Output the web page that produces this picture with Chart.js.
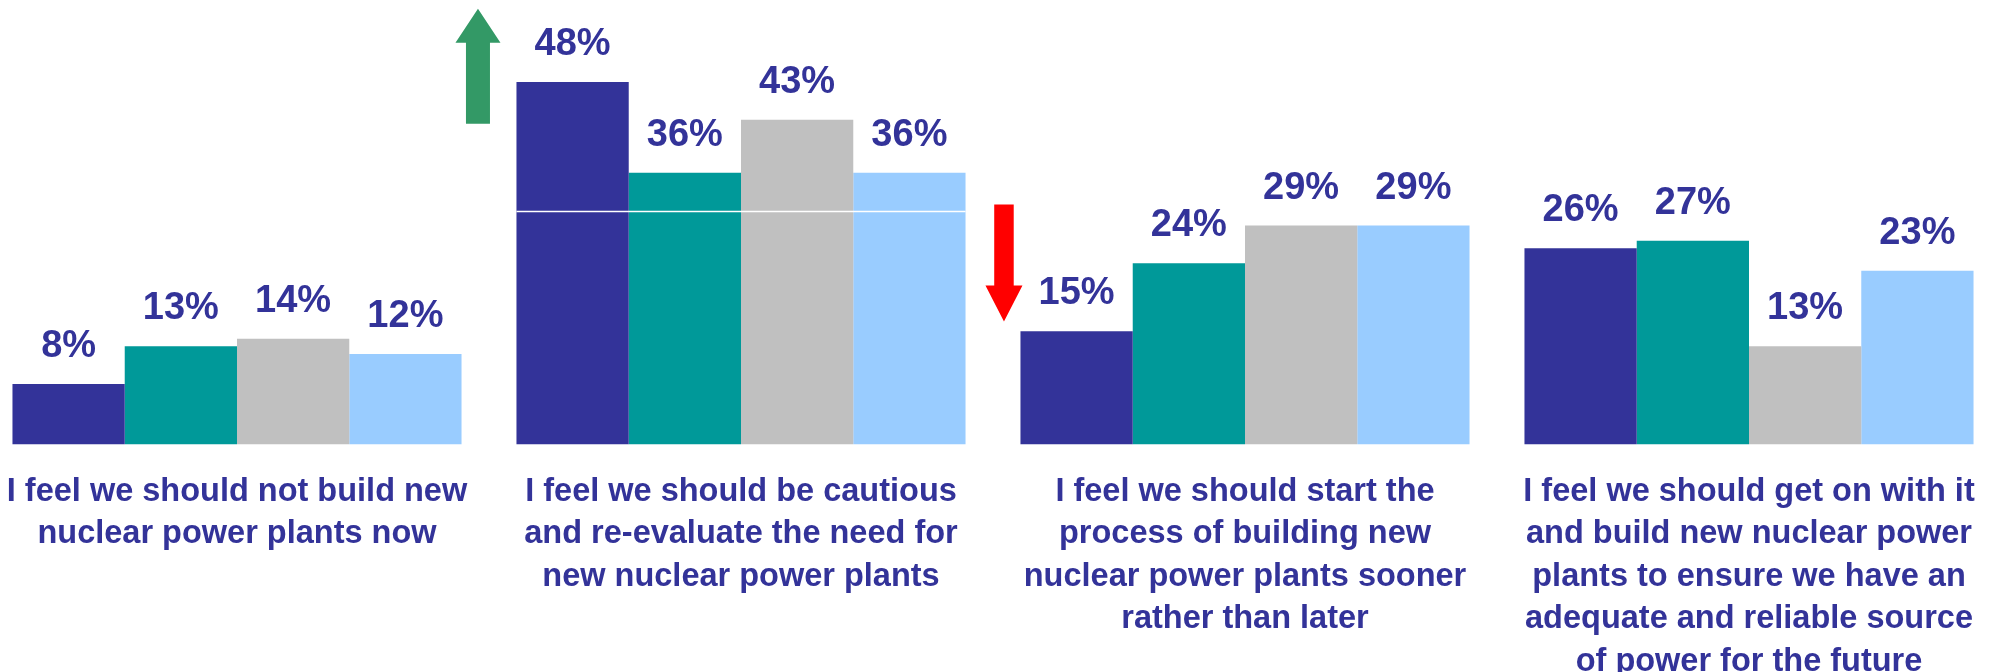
<!DOCTYPE html>
<html>
<head>
<meta charset="utf-8">
<script src="https://cdn.jsdelivr.net/npm/chart.js@4.4.0/dist/chart.umd.min.js"></script>
<style>
  html, body { margin:0; padding:0; background:#fff; overflow:hidden; width:2003px; height:672px; }
  #wrap { position:absolute; left:-15px; top:0; }
</style>
</head>
<body>
<div id="wrap"><canvas id="chart" width="2016" height="672"></canvas></div>
<script>
const categories = [
  ['I feel we should not build new', 'nuclear power plants now'],
  ['I feel we should be cautious', 'and re-evaluate the need for', 'new nuclear power plants'],
  ['I feel we should start the', 'process of building new', 'nuclear power plants sooner', 'rather than later'],
  ['I feel we should get on with it', 'and build new nuclear power', 'plants to ensure we have an', 'adequate and reliable source', 'of power for the future']
];
const seriesNames = ['Wave 1', 'Wave 2', 'Wave 3', 'Wave 4'];
const series1 = [8, 48, 15, 26];
const series2 = [13, 36, 24, 27];
const series3 = [14, 43, 29, 13];
const series4 = [12, 36, 29, 23];
const seriesColors = ['#333399', '#009999', '#C0C0C0', '#99CCFF'];
const textColor = '#333399';
const font = "'Liberation Sans', Arial, sans-serif";

// value labels above each bar
const valueLabels = {
  id: 'valueLabels',
  afterDatasetsDraw(chart) {
    const ctx = chart.ctx;
    ctx.save();
    ctx.fillStyle = textColor;
    ctx.font = 'bold 38px ' + font;
    ctx.textAlign = 'center';
    ctx.textBaseline = 'alphabetic';
    chart.data.datasets.forEach((ds, i) => {
      chart.getDatasetMeta(i).data.forEach((bar, j) => {
        ctx.fillText(ds.data[j] + '%', bar.x, bar.y - 27);
      });
    });
    ctx.restore();
  }
};

// multi-line category labels under the groups
const categoryLabels = {
  id: 'categoryLabels',
  afterDraw(chart) {
    const ctx = chart.ctx;
    const x = chart.scales.x, y = chart.scales.y;
    const base = y.getPixelForValue(0);
    ctx.save();
    ctx.fillStyle = textColor;
    ctx.font = 'bold 32.5px ' + font;
    ctx.textAlign = 'center';
    ctx.textBaseline = 'alphabetic';
    categories.forEach((lines, i) => {
      const cx = x.getPixelForValue(i);
      lines.forEach((line, k) => ctx.fillText(line, cx, base + 56 + k * 42.6));
    });
    ctx.restore();
  }
};

function arrow(ctx, cx, y1, y2, shaftW, headW, headH, color) {
  // y1 = tail, y2 = tip
  const dir = y2 > y1 ? 1 : -1;
  const hb = y2 - dir * headH;
  ctx.fillStyle = color;
  ctx.beginPath();
  ctx.moveTo(cx - shaftW / 2, y1);
  ctx.lineTo(cx + shaftW / 2, y1);
  ctx.lineTo(cx + shaftW / 2, hb);
  ctx.lineTo(cx + headW / 2, hb);
  ctx.lineTo(cx, y2);
  ctx.lineTo(cx - headW / 2, hb);
  ctx.lineTo(cx - shaftW / 2, hb);
  ctx.closePath();
  ctx.fill();
}

// up / down arrows and the thin white rule across the second group
const extras = {
  id: 'extras',
  afterDatasetsDraw(chart) {
    const ctx = chart.ctx;
    const y = chart.scales.y;
    const first = chart.getDatasetMeta(0).data;
    const last = chart.getDatasetMeta(3).data;
    ctx.save();
    const b2 = first[1], b3 = first[2];
    arrow(ctx, b2.x - b2.width / 2 - 38.5, y.getPixelForValue(42.5), y.getPixelForValue(57.7), 24, 45, 34, '#339966');
    arrow(ctx, b3.x - b3.width / 2 - 16.5, y.getPixelForValue(31.8), y.getPixelForValue(16.3), 19.5, 37, 36, '#FF0000');
    const ly = Math.round(y.getPixelForValue(30.9)) + 0.5;
    ctx.strokeStyle = '#FFFFFF';
    ctx.lineWidth = 1.5;
    ctx.beginPath();
    ctx.moveTo(b2.x - b2.width / 2, ly);
    ctx.lineTo(last[1].x + last[1].width / 2, ly);
    ctx.stroke();
    ctx.restore();
  }
};

const allSeries = [series1, series2, series3, series4];

new Chart(document.getElementById('chart'), {
  type: 'bar',
  data: {
    labels: categories.map(c => c.join(' ')),
    datasets: allSeries.map((s, i) => ({
      label: seriesNames[i],
      data: s,
      backgroundColor: seriesColors[i],
      borderWidth: 0,
      categoryPercentage: 0.891,
      barPercentage: 1.0
    }))
  },
  options: {
    responsive: false,
    animation: false,
    devicePixelRatio: 1,
    layout: { padding: { top: 67, bottom: 227.5, left: 0, right: 0 } },
    plugins: { legend: { display: false }, tooltip: { enabled: false } },
    scales: {
      x: { display: false },
      y: { display: false, min: 0, max: 50 }
    }
  },
  plugins: [valueLabels, extras, categoryLabels]
});
</script>
</body>
</html>
